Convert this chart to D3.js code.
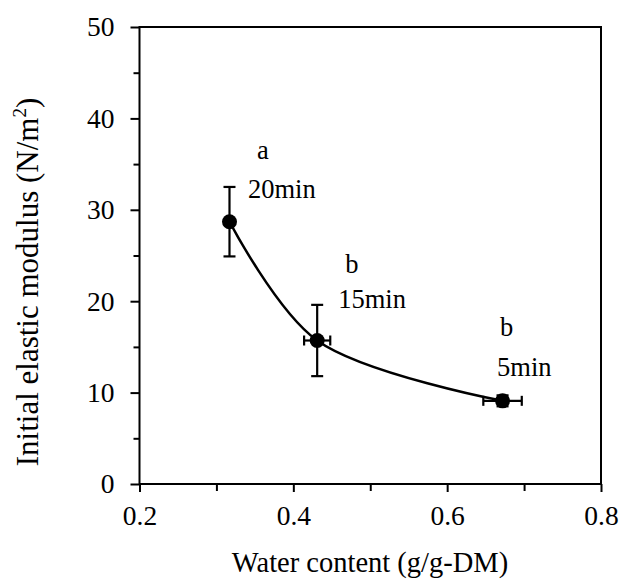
<!DOCTYPE html>
<html>
<head>
<meta charset="utf-8">
<script src="https://cdn.jsdelivr.net/npm/d3@7/dist/d3.min.js"></script>
<style>
html,body{margin:0;padding:0;background:#fff;}
svg text{font-family:'Liberation Serif',Tinos,'Times New Roman',Times,serif !important;fill:#000;}
</style>
</head>
<body>
<svg id="chart" width="619" height="579"></svg>
<script>
const waterContent = [0.317, 0.431, 0.672];
const modulus = [28.7, 15.7, 9.1];
const modulusErr = [3.8, 3.9, 0.6];
const waterErr = [0, 0.017, 0.025];
const groupLetters = ["a", "b", "b"];
const timeLabels = ["20min", "15min", "5min"];
const xTicks = [0.2, 0.4, 0.6, 0.8];
const xMinorTicks = [0.3, 0.5, 0.7];
const yTicks = [0, 10, 20, 30, 40, 50];
const yMinorTicks = [5, 15, 25, 35, 45];

const svg = d3.select("#chart");
const L = 139.5, R = 601, T = 27, B = 484;
const x = d3.scaleLinear().domain([0.2, 0.8]).range([L, R]);
const y = d3.scaleLinear().domain([0, 50]).range([B, T]);
const tickFs = 27.5, titleFs = 28.5, yTitleFs = 31, annFs = 26.5;

svg.append("rect").attr("x", L).attr("y", T).attr("width", R - L).attr("height", B - T)
  .attr("fill", "none").attr("stroke", "#000").attr("stroke-width", 2);

const xAxis = d3.axisBottom(x).tickValues(xTicks).tickSize(8).tickPadding(13).tickFormat(d3.format(".1f"));
const gx = svg.append("g").attr("transform", `translate(0,${B})`).call(xAxis);
gx.select(".domain").remove();
gx.selectAll(".tick line").attr("stroke", "#000").attr("stroke-width", 2);
gx.selectAll(".tick text").style("font-size", tickFs + "px");
const gxm = svg.append("g").attr("transform", `translate(0,${B})`)
  .call(d3.axisBottom(x).tickValues(xMinorTicks).tickSize(7).tickFormat(""));
gxm.select(".domain").remove();
gxm.selectAll(".tick line").attr("stroke", "#000").attr("stroke-width", 2);

const yAxis = d3.axisLeft(y).tickValues(yTicks).tickSize(9).tickPadding(16).tickFormat(d3.format("d"));
const gy = svg.append("g").attr("transform", `translate(${L},0)`).call(yAxis);
gy.select(".domain").remove();
gy.selectAll(".tick line").attr("stroke", "#000").attr("stroke-width", 2);
gy.selectAll(".tick text").style("font-size", tickFs + "px");
const gym = svg.append("g").attr("transform", `translate(${L},0)`)
  .call(d3.axisLeft(y).tickValues(yMinorTicks).tickSize(6).tickFormat(""));
gym.select(".domain").remove();
gym.selectAll(".tick line").attr("stroke", "#000").attr("stroke-width", 2);

svg.append("text").attr("x", 370).attr("y", 572).attr("text-anchor", "middle")
  .style("font-size", titleFs + "px").text("Water content (g/g-DM)");
const yt = svg.append("text").attr("transform", `translate(38,282) rotate(-90)`)
  .attr("text-anchor", "middle").style("font-size", yTitleFs + "px");
yt.append("tspan").text("Initial elastic modulus (N/m");
yt.append("tspan").attr("dy", -12).style("font-size", "19px").text("2");
yt.append("tspan").attr("dy", 12).text(")");

const pts = waterContent.map((w, i) => ({w, m: modulus[i], me: modulusErr[i], we: waterErr[i]}));

const line = d3.line().x(d => x(d.w)).y(d => y(d.m)).curve(d3.curveCatmullRom.alpha(0.5));
svg.append("path").datum(pts).attr("d", line).attr("fill", "none").attr("stroke", "#000").attr("stroke-width", 2.5);

const eb = svg.append("g").attr("stroke", "#000").attr("stroke-width", 2.2);
pts.forEach(d => {
  if (d.me > 0) {
    eb.append("line").attr("x1", x(d.w)).attr("x2", x(d.w)).attr("y1", y(d.m - d.me)).attr("y2", y(d.m + d.me));
    [d.m - d.me, d.m + d.me].forEach(v => eb.append("line").attr("x1", x(d.w) - 6).attr("x2", x(d.w) + 6).attr("y1", y(v)).attr("y2", y(v)));
  }
  if (d.we > 0) {
    eb.append("line").attr("x1", x(d.w - d.we)).attr("x2", x(d.w + d.we)).attr("y1", y(d.m)).attr("y2", y(d.m));
    [d.w - d.we, d.w + d.we].forEach(v => eb.append("line").attr("x1", x(v)).attr("x2", x(v)).attr("y1", y(d.m) - 5).attr("y2", y(d.m) + 5));
  }
});

svg.append("g").selectAll("circle").data(pts).join("circle")
  .attr("cx", d => x(d.w)).attr("cy", d => y(d.m)).attr("r", 7.5).attr("fill", "#000");

// annotation placement (pixel offsets from each point)
const letterOffset = [[27.5, -63], [28, -67.5], [-2.5, -65]];
const timeOffset = [[18.5, -24], [21, -32.5], [-5.5, -25]];
const ann = svg.append("g").style("font-size", annFs + "px");
pts.forEach((d, i) => {
  const px = x(d.w), py = y(d.m);
  ann.append("text").attr("x", px + letterOffset[i][0]).attr("y", py + letterOffset[i][1]).text(groupLetters[i]);
  ann.append("text").attr("x", px + timeOffset[i][0]).attr("y", py + timeOffset[i][1]).text(timeLabels[i]);
});
</script>
</body>
</html>
